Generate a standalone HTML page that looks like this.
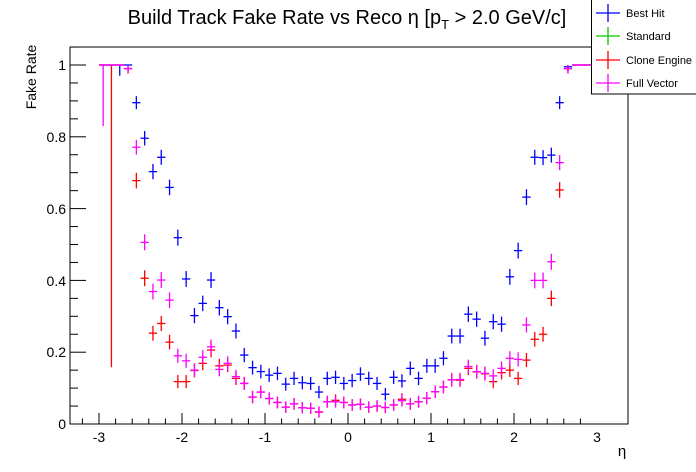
<!DOCTYPE html>
<html><head><meta charset="utf-8"><style>
html,body{margin:0;padding:0;background:#fff;}
svg{display:block;font-family:"Liberation Sans",Arial,sans-serif;}
</style></head><body>
<svg id="s" width="696" height="472" viewBox="0 0 696 472" xmlns="http://www.w3.org/2000/svg">
<rect width="696" height="472" fill="#fff"/>
<text x="347" y="24" font-size="20" text-anchor="middle">Build Track Fake Rate vs Reco η [p<tspan font-size="13" dy="5">T</tspan><tspan dy="-5"> &gt; 2.0 GeV/c]</tspan></text>
<rect x="70" y="47" width="558" height="377" fill="none" stroke="#000" stroke-width="1"/>
<g id="ax" stroke="#000" stroke-width="1"></g>
<g font-size="14" text-anchor="end" id="yl">
<text x="66" y="429">0</text><text x="66" y="357">0.2</text><text x="66" y="286">0.4</text><text x="66" y="214">0.6</text><text x="66" y="142">0.8</text><text x="66" y="70">1</text>
</g>
<g font-size="14" text-anchor="middle">
<text x="99" y="442">-3</text><text x="182" y="442">-2</text><text x="265" y="442">-1</text><text x="348" y="442">0</text><text x="431" y="442">1</text><text x="514" y="442">2</text><text x="597" y="442">3</text>
</g>
<text x="622" y="456" font-size="15" text-anchor="middle">η</text>
<text transform="translate(36,77) rotate(-90)" font-size="14" text-anchor="middle">Fake Rate</text>
<g id="pts" stroke-width="1.3" fill="none"></g>
<rect x="591.5" y="-1" width="105" height="95" fill="#fff" stroke="#000"/>
<g stroke-width="1.3">
<line x1="596" y1="13" x2="620" y2="13" stroke="#0000ff"/><line x1="608" y1="4" x2="608" y2="22" stroke="#0000ff"/>
<line x1="596" y1="36" x2="620" y2="36" stroke="#00cc00"/><line x1="608" y1="27" x2="608" y2="45" stroke="#00cc00"/>
<line x1="596" y1="60" x2="620" y2="60" stroke="#ff0000"/><line x1="608" y1="51" x2="608" y2="69" stroke="#ff0000"/>
<line x1="596" y1="83" x2="620" y2="83" stroke="#ff00ff"/><line x1="608" y1="74" x2="608" y2="92" stroke="#ff00ff"/>
</g>
<g font-size="11">
<text x="626" y="17">Best Hit</text><text x="626" y="40">Standard</text><text x="626" y="64">Clone Engine</text><text x="626" y="87">Full Vector</text>
</g>
</svg>
<script>
var NS="http://www.w3.org/2000/svg";
function L(g,x1,y1,x2,y2,c){var l=document.createElementNS(NS,"line");l.setAttribute("x1",x1);l.setAttribute("y1",y1);l.setAttribute("x2",x2);l.setAttribute("y2",y2);if(c)l.setAttribute("stroke",c);g.appendChild(l);}
var ax=document.getElementById("ax");
for(var i=0;i<=30;i++){var e=-3.2+i*0.2;var x=348+83*e;if(x<70||x>628)continue;var maj=Math.abs(Math.round(e)-e)<1e-6;L(ax,x,424,x,424-(maj?11:5.5));}
for(var i=0;i<=21;i++){var v=i*0.05;var y=424-359*v;if(y<47)continue;var maj=(i%4==0);L(ax,70,y,70+(maj?16:8),y);}
var etas=[];for(var i=0;i<60;i++)etas.push(-2.95+i*0.1);
var blue=[1,1,1,1,.895,.796,.703,.743,.659,.519,.404,.302,.336,.401,.324,.299,.259,.192,.157,.146,.136,.141,.111,.127,.115,.113,.089,.127,.13,.113,.121,.139,.127,.113,.083,.13,.12,.155,.127,.162,.162,.183,.245,.245,.306,.292,.239,.285,.278,.41,.483,.632,.743,.742,.749,.895,.995,1,1,1];
var mag=[1,1,1,.99,.771,.506,.369,.401,.345,.19,.176,.15,.186,.215,.152,.169,.132,.113,.075,.089,.071,.06,.047,.056,.045,.044,.034,.062,.062,.06,.053,.055,.047,.05,.046,.053,.065,.056,.062,.072,.09,.103,.123,.124,.16,.146,.141,.134,.155,.183,.18,.276,.4,.4,.452,.728,.99,1,1,1];
var red=mag.slice();
var rd={"-2.55":.678,"-2.45":.406,"-2.35":.253,"-2.25":.28,"-2.15":.228,"-2.05":.118,"-1.95":.118,"-1.85":.149,"-1.75":.169,"-1.65":.206,"-1.55":.162,"-1.45":.164,"-1.35":.127,"-1.25":.113,"-0.35":.033,"-0.15":.066,"0.65":.069,"1.35":.122,"1.45":.155,"1.55":.145,"1.65":.14,"1.75":.118,"1.85":.143,"1.95":.15,"2.05":.127,"2.15":.178,"2.25":.236,"2.35":.25,"2.45":.35,"2.55":.652};
for(var i=0;i<60;i++){var k=etas[i].toFixed(2);if(rd[k]!==undefined)red[i]=rd[k];}
var pts=document.getElementById("pts");
function draw(arr,c,special){for(var i=0;i<60;i++){var v=arr[i];var x=348+83*etas[i];var y=424-359*v;var h=4+8*Math.sqrt(v*(1-v));var lo=y+h,hi=Math.max(65,y-h);if(special&&special[i])lo=424-359*special[i];if(v>=0.999){hi=y;lo=special&&special[i]?lo:y+1;}L(pts,x-4.15,y,x+4.15,y,c);L(pts,x,hi,x,lo,c);}}
draw(blue,"#0000ff",{2:.97});
draw(red,"#ff0000",{1:.158});
draw(mag,"#ff00ff",{0:.83});
</script>
</body></html>
